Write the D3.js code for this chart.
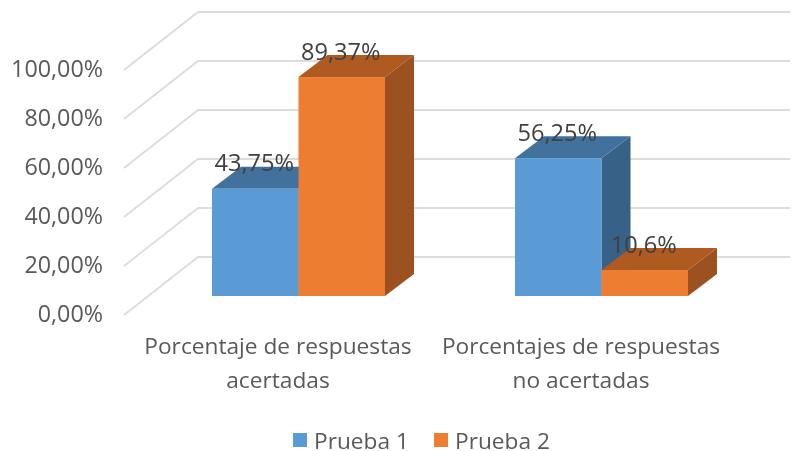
<!DOCTYPE html>
<html><head><meta charset="utf-8">
<script src="https://cdn.jsdelivr.net/npm/d3@7"></script>
<style>html,body{margin:0;padding:0;background:#fff}svg{display:block;filter:blur(.45px)}text{font-family:"Open Sans",sans-serif}</style>
</head><body><svg id="c" width="794" height="451"></svg>
<script>
const categories = [["Porcentaje de respuestas","acertadas"],["Porcentajes de respuestas","no acertadas"]];
const categoryKeys = ["a","b"];
const seriesNames = ["Prueba 1","Prueba 2"];
const prueba1 = [43.75,56.25];
const prueba2 = [89.37,10.6];
const labels1 = ["43,75%","56,25%"];
const labels2 = ["89,37%","10,6%"];
const tickValues = [0,20,40,60,80,100];
const tickLabels = ["0,00%","20,00%","40,00%","60,00%","80,00%","100,00%"];
const colors = {front:["#5b9bd5","#ed7d31"],top:["#41719c","#ae5a21"],side:["#376186","#9c5120"]};

const svg = d3.select("#c");
const H = d3.scaleLinear().domain([0,100]).range([0,245]);
const wallFrontX = 124, wallBackX = 198, wallFrontY0 = 315, wallBackY0 = 257, gridEnd = 790;
const baseY = 296, depthX = 29, depthY = 22;
const x0 = d3.scaleBand().domain(categoryKeys).range([147,753]);
const barW = 86.5;

tickValues.forEach(t=>{
  const h = H(t);
  svg.append("path").attr("fill","none").attr("stroke","#dcdcdc").attr("stroke-width",1.8)
    .attr("d",d3.line()([[wallFrontX,wallFrontY0-h],[wallBackX,wallBackY0-h],[gridEnd,wallBackY0-h]]));
});
svg.append("g").selectAll("text").data(tickValues).join("text")
  .attr("x",103).attr("y",t=>wallFrontY0-H(t)-2).attr("text-anchor","end").attr("dominant-baseline","central")
  .attr("font-size",23.3).attr("fill","#595959").text((t,i)=>tickLabels[i]);

function bar(x,v,s){
  const h = H(v), top = baseY-h;
  const g = svg.append("g");
  g.append("path").attr("fill",colors.side[s]).attr("d",d3.line()([[x+barW,baseY],[x+barW+depthX,baseY-depthY],[x+barW+depthX,top-depthY],[x+barW,top]])+"Z");
  g.append("path").attr("fill",colors.top[s]).attr("d",d3.line()([[x,top],[x+depthX,top-depthY],[x+barW+depthX,top-depthY],[x+barW,top]])+"Z");
  g.append("rect").attr("x",x).attr("y",top).attr("width",barW).attr("height",h).attr("fill",colors.front[s]);
}
categoryKeys.forEach((k,i)=>{
  const mid = x0(k)+x0.bandwidth()/2;
  const left = mid-barW;
  bar(left,prueba1[i],0);
  bar(mid,prueba2[i],1);
  [[left,prueba1[i],labels1[i]],[mid,prueba2[i],labels2[i]]].forEach(d=>{
    svg.append("text").attr("x",d[0]+barW/2-1).attr("y",baseY-H(d[1])-26.5).attr("text-anchor","middle")
      .attr("dominant-baseline","central").attr("font-size",23.6).attr("fill","#404040").text(d[2]);
  });
  categories[i].forEach((line,j)=>{
    svg.append("text").attr("x",mid-20.5).attr("y",345+j*34).attr("text-anchor","middle")
      .attr("dominant-baseline","central").attr("font-size",22.7).attr("fill","#595959").text(line);
  });
});
const lx = [293,434];
seriesNames.forEach((n,i)=>{
  svg.append("rect").attr("x",lx[i]).attr("y",433).attr("width",14).attr("height",14).attr("fill",colors.front[i]);
  svg.append("text").attr("x",lx[i]+21).attr("y",440).attr("dominant-baseline","central")
    .attr("font-size",22.7).attr("fill","#595959").text(n);
});
</script></body></html>
